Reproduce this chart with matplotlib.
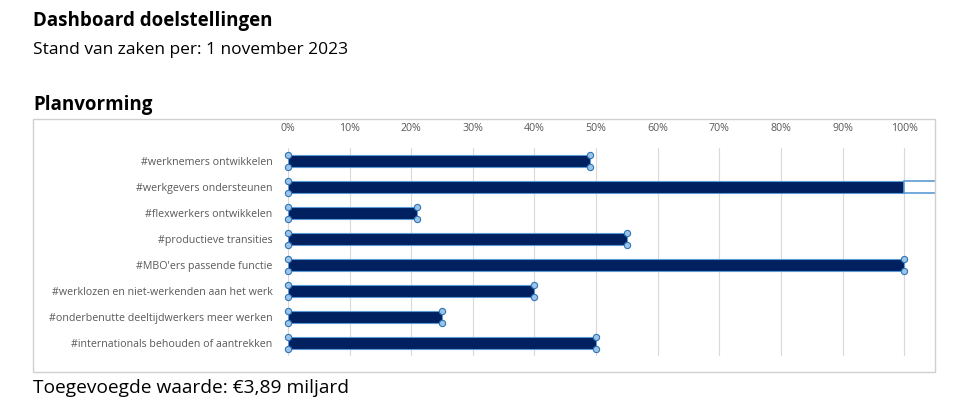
import matplotlib.pyplot as plt
from matplotlib.patches import Rectangle

# Data
doelen = [
    "#werknemers ontwikkelen",
    "#werkgevers ondersteunen",
    "#flexwerkers ontwikkelen",
    "#productieve transities",
    "#MBO'ers passende functie",
    "#werklozen en niet-werkenden aan het werk",
    "#onderbenutte deeltijdwerkers meer werken",
    "#internationals behouden of aantrekken",
]
voortgang = [49, 110, 21, 55, 100, 40, 25, 50]
ticks = list(range(0, 101, 10))
tick_labels = [f"{t}%" for t in ticks]

navy = "#002060"
edge_blue = "#5b9bd5"
handle_fill = "#9dc3e6"
grey_text = "#595959"

plt.rcParams['font.family'] = ['Open Sans', 'DejaVu Sans']

fig = plt.figure(figsize=(9.72, 4.2), dpi=100)

# header texts
fig.text(33 / 972, 1 - 21 / 420, "Dashboard doelstellingen", fontsize=13.5,
         fontweight='bold', va='center', ha='left')
fig.text(33 / 972, 1 - 50 / 420, "Stand van zaken per: 1 november 2023", fontsize=12.5,
         va='center', ha='left')
fig.text(33 / 972, 1 - 105 / 420, "Planvorming", fontsize=13.5,
         fontweight='bold', va='center', ha='left')
fig.text(33 / 972, 1 - 388 / 420, "Toegevoegde waarde: €3,89 miljard", fontsize=13.8,
         va='center', ha='left')

# chart border
fig.patches.append(Rectangle((33 / 972, 1 - 372 / 420), (935 - 33) / 972, (372 - 119) / 420,
                             transform=fig.transFigure, fill=False,
                             edgecolor='#d0d0d0', linewidth=1))

ax = fig.add_axes([288 / 972, 1 - 356 / 420, 647 / 972, 208 / 420])
ax.set_xlim(0, 105)
ax.set_ylim(len(doelen) - 0.5, -0.5)

bar_h = 0.48
for i, v in enumerate(voortgang):
    shown = min(v, 100)
    ax.barh(i, shown, height=bar_h, color=navy, edgecolor=edge_blue, linewidth=0.8, zorder=3)
    handle_x = [0, shown]
    if v > 100:
        # overflow part beyond 100% drawn as an empty outlined box
        ax.barh(i, v - 100, left=100, height=bar_h, color='white',
                edgecolor=edge_blue, linewidth=1.2, zorder=3)
        handle_x = [0]
    for x in handle_x:
        ax.plot([x, x], [i - bar_h / 2, i + bar_h / 2], linestyle='none', marker='o',
                markersize=4.5, markerfacecolor=handle_fill, markeredgecolor='#2e75b6',
                markeredgewidth=0.8, zorder=4, clip_on=False)

ax.set_yticks(range(len(doelen)))
ax.set_yticklabels(doelen, fontsize=7.7, color=grey_text)
ax.set_xticks(ticks)
ax.set_xticklabels(tick_labels, fontsize=7.7, color=grey_text)
ax.xaxis.tick_top()
ax.tick_params(axis='both', length=0)
ax.tick_params(axis='x', pad=10)
ax.tick_params(axis='y', pad=11)
ax.grid(axis='x', color='#d9d9d9', linewidth=0.8, zorder=0)
for s in ax.spines.values():
    s.set_visible(False)

plt.savefig("out.png", dpi=100)
